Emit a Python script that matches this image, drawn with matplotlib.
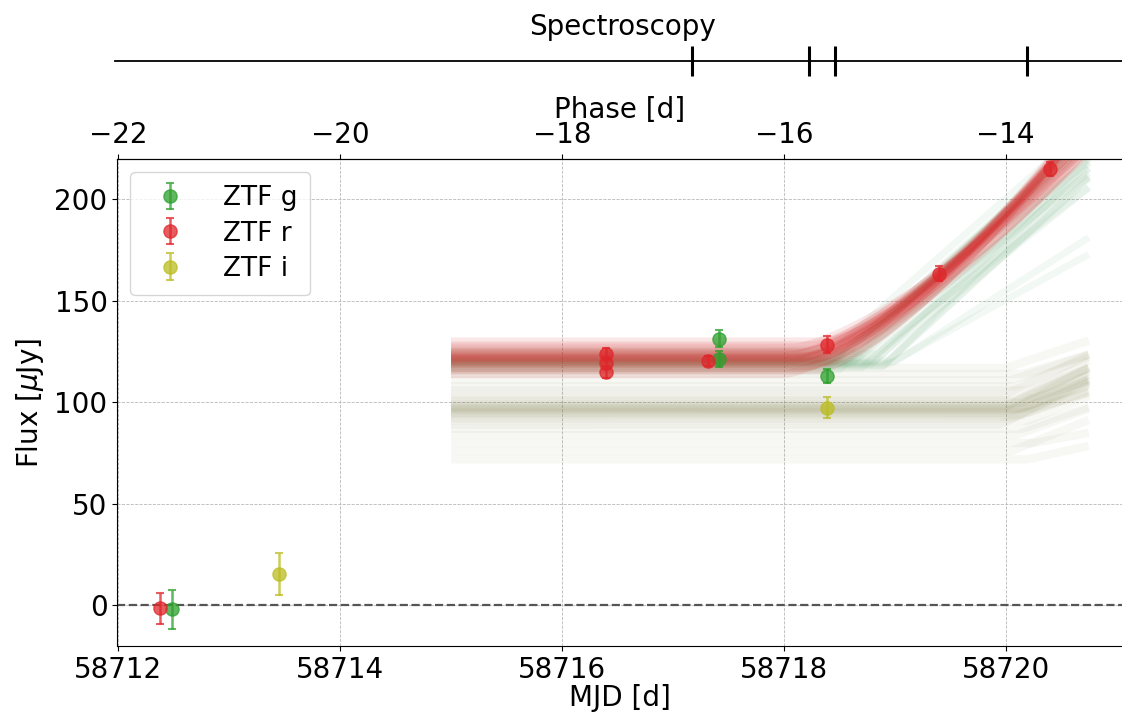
import numpy as np
import matplotlib
matplotlib.use("Agg")
import matplotlib.pyplot as plt

# photometry (MJD, flux [uJy], error)
g_mjd = [58712.48, 58717.42, 58717.42, 58718.39]
g_flux = [-2.0, 131.5, 121.5, 113.0]
g_err = [9.5, 4.0, 4.0, 3.5]

r_mjd = [58712.38, 58716.40, 58716.40, 58716.40, 58717.32, 58718.39, 58719.40, 58720.40]
r_flux = [-1.5, 124.0, 119.5, 115.0, 120.5, 128.5, 163.5, 215.0]
r_err = [7.5, 3.0, 3.0, 3.0, 2.5, 4.0, 3.5, 3.5]

i_mjd = [58713.45, 58718.39]
i_flux = [15.5, 97.5]
i_err = [10.5, 5.0]

# spectroscopy epochs
spec_mjd = [58717.17, 58718.23, 58718.46, 58720.19]

PEAK_MJD = 58734.0  # phase zero

# posterior draws of the rise model: base + b * (t - t0)**n for t > t0
model_t_range = (58715.0, 58720.75)

r_n = 1.4
r_base = [114, 116, 117, 118, 119, 120, 120, 121, 121, 122, 122, 122, 123, 123, 124, 124, 125, 126, 127, 128, 130]
r_t0 = [58718.00, 58718.30, 58718.15, 58718.25, 58718.05, 58718.20, 58718.40, 58718.10, 58718.25,
        58718.15, 58718.20, 58718.30, 58718.05, 58718.25, 58718.15, 58718.35, 58718.20, 58718.30,
        58718.10, 58718.25, 58718.40]
r_b = [27.0, 35.5, 28.5, 34.5, 26.0, 30.5, 36.5, 27.5, 33.0, 29.0, 31.0, 34.5, 26.5, 32.0, 28.0,
       34.0, 29.5, 32.5, 25.5, 30.0, 33.0]

g_n = 1.0
g_base = [115, 116, 117, 118, 118, 119, 119, 120, 120, 120, 121, 121, 121, 122, 122, 123, 124, 125,
          126, 120, 119]
g_t0 = [58718.35, 58718.50, 58718.70, 58718.90, 58718.90, 58718.80, 58718.60, 58718.40, 58718.55,
        58718.80, 58718.45, 58718.65, 58718.95, 58718.50, 58718.75, 58718.60, 58718.85, 58718.70,
        58718.45, 58719.00, 58718.95]
g_b = [46, 50, 48, 50, 54, 52, 47, 42, 52, 44, 47, 45, 50, 49, 42, 51, 46, 43, 48, 35, 30]

i_n = 1.0
i_base = [72, 76, 80, 84, 87, 89, 91, 92, 93, 94, 95, 95, 96, 96, 97, 97, 97, 98, 98, 99, 100, 101,
          102, 104, 106, 108, 111, 114, 117]
i_t0 = [58720.20, 58720.05, 58720.25, 58720.10, 58720.15, 58719.95, 58720.20, 58720.05, 58720.10,
        58720.15, 58720.00, 58720.20, 58720.10, 58720.05, 58720.15, 58720.25, 58720.10, 58720.00,
        58720.20, 58720.05, 58720.15, 58720.10, 58720.25, 58720.00, 58720.20, 58720.10, 58720.05,
        58720.15, 58720.00]
i_b = [12, 22, 10, 20, 18, 28, 22, 26, 24, 20, 30, 18, 24, 28, 22, 16, 26, 30, 20, 26, 22, 24,
       18, 26, 20, 22, 18, 16, 18]

plt.rcParams["font.size"] = 20

fig = plt.figure(figsize=(11.22, 7.19), dpi=100)
ax = fig.add_axes([0.1045, 0.1015, 0.8955, 0.6775])

t = np.linspace(model_t_range[0], model_t_range[1], 400)


def draw_model(bases, t0s, bs, n, color, alpha, lw):
    for base, t0, b in zip(bases, t0s, bs):
        dt = np.clip(t - t0, 0, None)
        ax.plot(t, base + b * dt ** n, color=color, alpha=alpha, lw=lw, zorder=1,
                solid_capstyle="butt")


draw_model(i_base, i_t0, i_b, i_n, "#7a7a40", 0.055, 6)
draw_model(g_base, g_t0, g_b, g_n, "#2e8b45", 0.06, 5)
draw_model(r_base, r_t0, r_b, r_n, "#d62728", 0.11, 6)

ax.axhline(0, color="#555555", ls="--", lw=1.6, zorder=2)

kw = dict(fmt="o", ms=9.5, capsize=3, elinewidth=1.8, capthick=1.5, alpha=0.75, zorder=4)
ax.errorbar(g_mjd, g_flux, yerr=g_err, color="#2ca02c", label="ZTF g", **kw)
ax.errorbar(r_mjd, r_flux, yerr=r_err, color="#e0262a", label="ZTF r", **kw)
ax.errorbar(i_mjd, i_flux, yerr=i_err, color="#bcbd22", label="ZTF i", **kw)

ax.set_xlim(58711.99, 58721.05)
ax.set_ylim(-20, 220)
ax.set_xticks([58712, 58714, 58716, 58718, 58720])
ax.set_xticklabels(["58712", "58714", "58716", "58718", "58720"])
ax.set_yticks([0, 50, 100, 150, 200])
ax.grid(True, ls="--", lw=0.6, color="#b8b8b8")
ax.set_axisbelow(True)
ax.spines["right"].set_visible(False)
ax.set_xlabel("MJD [d]", labelpad=0)
ax.set_ylabel(r"Flux [$\mu$Jy]", labelpad=6)
ax.legend(loc="upper left", fontsize=19, borderpad=0.5, handletextpad=1.0, labelspacing=0.35)

top = ax.secondary_xaxis("top", functions=(lambda x: x - PEAK_MJD, lambda p: p + PEAK_MJD))
top.set_xticks([-22, -20, -18, -16, -14])
top.set_xlabel("Phase [d]", labelpad=2)

# spectroscopy strip
sp = fig.add_axes([0.1025, 0.915, 0.8975, 0.001])
sp.set_xlim(ax.get_xlim()[0] - 0.02, ax.get_xlim()[1])
sp.set_ylim(0, 1)
for s in ["top", "left", "right"]:
    sp.spines[s].set_visible(False)
sp.spines["bottom"].set_linewidth(1.3)
sp.set_yticks([])
sp.set_xticks(spec_mjd)
sp.tick_params(axis="x", direction="inout", length=22, width=2.2, labelbottom=False)
sp.patch.set_alpha(0)
fig.text(0.555, 0.962, "Spectroscopy", ha="center", va="center", fontsize=20)

fig.savefig("out.png", dpi=100)
